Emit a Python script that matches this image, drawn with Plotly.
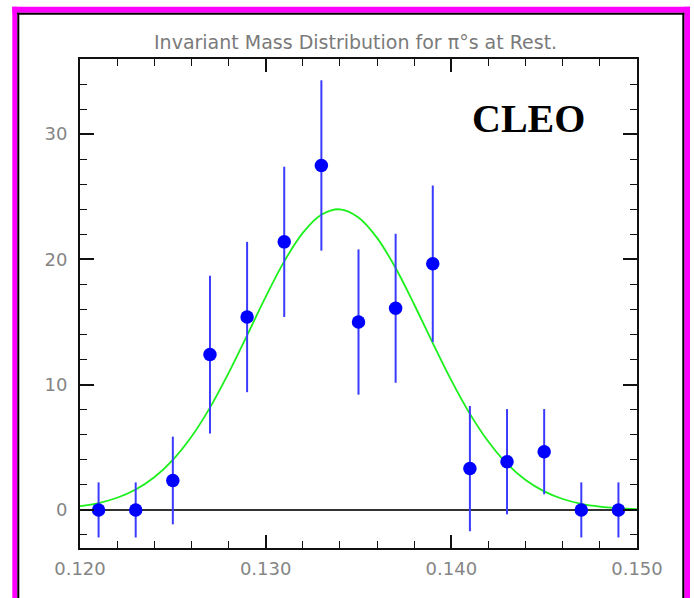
import plotly.graph_objects as go

# ---- data ----
mass = [0.121, 0.123, 0.125, 0.127, 0.129, 0.131, 0.133, 0.135,
        0.137, 0.139, 0.141, 0.143, 0.145, 0.147, 0.149]
counts = [0.0, 0.0, 2.35, 12.4, 15.4, 21.4, 27.5, 15.0,
          16.1, 19.65, 3.3, 3.85, 4.65, 0.0, 0.0]
errors = [2.2, 2.2, 3.5, 6.3, 6.0, 6.0, 6.8, 5.8,
          5.95, 6.25, 5.0, 4.2, 3.4, 2.2, 2.2]

# fitted curve
fit_x = [0.120, 0.121, 0.122, 0.123, 0.124, 0.125, 0.126, 0.127, 0.128, 0.129,
         0.130, 0.131, 0.132, 0.133, 0.134, 0.135, 0.136, 0.137, 0.138, 0.139,
         0.140, 0.141, 0.142, 0.143, 0.144, 0.145, 0.146, 0.147, 0.148, 0.149, 0.150]
fit_y = [0.30, 0.55, 0.97, 1.63, 2.61, 4.00, 5.84, 8.17, 10.92, 13.94,
         17.01, 19.84, 22.12, 23.56, 24.0, 23.35, 21.72, 19.31, 16.40, 13.32,
         10.34, 7.67, 5.44, 3.68, 2.39, 1.48, 0.87, 0.49, 0.27, 0.14, 0.07]

x_ticks = [0.120, 0.130, 0.140, 0.150]
x_tick_text = ["0.120", "0.130", "0.140", "0.150"]
y_ticks = [0, 10, 20, 30]

title_text = "Invariant Mass Distribution for \u03c0\u00b0s at Rest."
label_text = "CLEO"

W, H = 694, 598
L, R, T, B = 80, 637, 59, 548

fig = go.Figure()
fig.add_trace(go.Scatter(
    x=fit_x, y=fit_y, mode="lines", line=dict(color="#1cf01c", width=1.8, shape="spline"),
    hoverinfo="skip", showlegend=False))
fig.add_trace(go.Scatter(
    x=mass, y=counts, mode="markers",
    marker=dict(color="#0000ff", size=13.5, line=dict(width=0)),
    error_y=dict(type="data", array=errors, visible=True, width=0,
                 thickness=2, color="#3b3bff"),
    showlegend=False))

tickfont = dict(family="DejaVu Sans", size=18, color="#858585")

fig.update_xaxes(
    range=[0.120, 0.150], tickvals=x_ticks, ticktext=x_tick_text,
    ticks="inside", ticklen=13, tickwidth=1.5, tickcolor="#111",
    minor=dict(dtick=0.002, ticks="inside", ticklen=7, tickwidth=1.2, tickcolor="#111"),
    showline=True, linecolor="#111", linewidth=2, mirror="ticks",
    showgrid=False, zeroline=False, tickfont=tickfont, ticklabelstandoff=3,
    fixedrange=True)
fig.update_yaxes(
    range=[-3.04, 36.0], tickvals=y_ticks,
    ticks="inside", ticklen=14, tickwidth=1.5, tickcolor="#111",
    minor=dict(dtick=2, ticks="inside", ticklen=7, tickwidth=1.2, tickcolor="#111"),
    showline=True, linecolor="#111", linewidth=2, mirror="ticks",
    showgrid=False, zeroline=True, zerolinecolor="#333", zerolinewidth=1.5,
    tickfont=tickfont, ticklabelstandoff=7, fixedrange=True)

def px_x(p):
    return (p - L) / (R - L)

def px_y(p):
    return (B - p) / (B - T)

shapes = []
def rect(x0, x1, y0, y1, color):
    shapes.append(dict(type="rect", xref="paper", yref="paper",
                       x0=px_x(x0), x1=px_x(x1), y0=px_y(y1), y1=px_y(y0),
                       fillcolor=color, line=dict(width=0), layer="above"))

magenta = "#ff00ff"
rect(12.3, 17.3, 6.7, 610, magenta)
rect(12.3, 690, 6.7, 12.7, magenta)
rect(684.3, 690, 6.7, 610, magenta)
rect(17.3, 19.3, 12.7, 610, "#000000")
rect(17.3, 684.3, 12.7, 14.8, "#000000")
rect(682.3, 684.3, 12.7, 610, "#000000")

annotations = [
    dict(text=title_text, xref="paper", yref="paper", x=px_x(355), y=px_y(42),
         xanchor="center", yanchor="middle", showarrow=False,
         font=dict(family="DejaVu Sans", size=19, color="#7a7a7a")),
    dict(text="<b>" + label_text + "</b>", xref="paper", yref="paper",
         x=px_x(528.5), y=px_y(119), xanchor="center", yanchor="middle", showarrow=False,
         font=dict(family="Liberation Serif", size=40, color="#000000")),
]

fig.update_layout(
    width=W, height=H, margin=dict(l=L, r=W - R, t=T, b=H - B),
    paper_bgcolor="white", plot_bgcolor="white",
    shapes=shapes, annotations=annotations, showlegend=False)

fig.write_html("out.html", config={"displayModeBar": False})
